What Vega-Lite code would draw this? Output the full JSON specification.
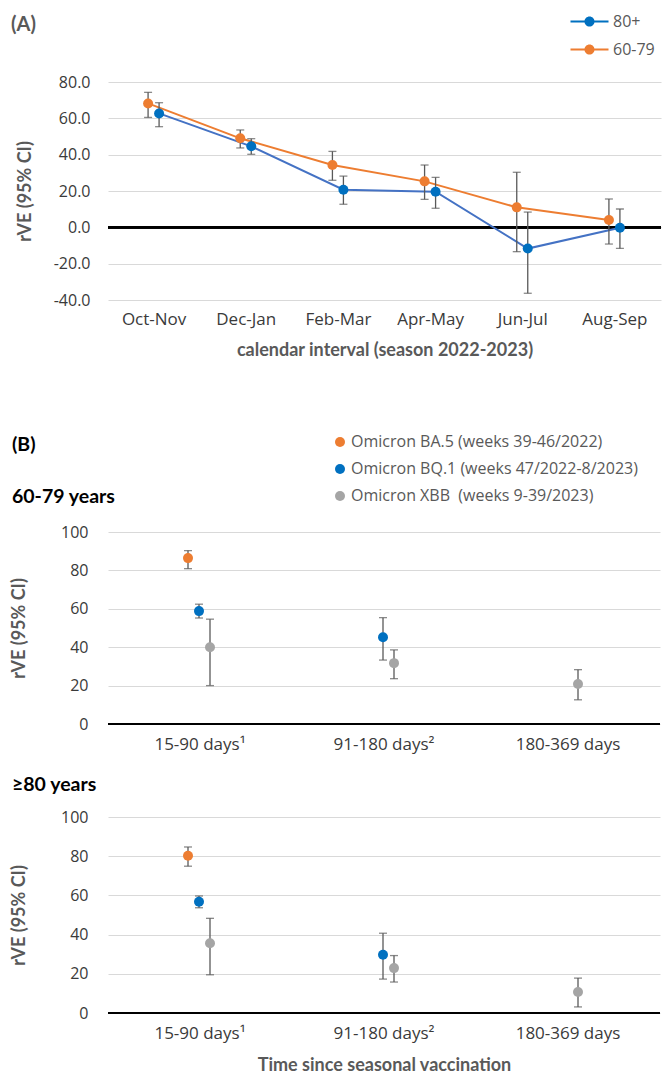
{
  "$schema": "https://vega.github.io/schema/vega-lite/v6.json",
  "padding": {"left": 10, "top": 12, "right": 4, "bottom": 4},
  "config": {
    "view": {"stroke": null},
    "font": "Open Sans",
    "axis": {"domain": false, "ticks": false, "grid": false, "labelFont": "Open Sans", "labelFontSize": 16, "labelColor": "#3a3a3a", "titleFont": "Lato", "titleFontWeight": "bold", "titleColor": "#595959", "titleFontSize": 18},
    "axisX": {"labelFontSize": 17},
    "axisY": {"grid": true, "gridColor": "#d9d9d9", "gridWidth": 1},
    "title": {"anchor": "start", "frame": "group", "font": "Lato", "fontWeight": "bold"},
    "legend": {"padding": 0, "title": null}
  },
  "datasets": {
    "a": [
      {"interval": "Oct-Nov", "group": "60-79", "rve": 68.2, "lo": 60.5, "hi": 74.3},
      {"interval": "Oct-Nov", "group": "80+", "rve": 62.7, "lo": 55.4, "hi": 68.6},
      {"interval": "Dec-Jan", "group": "60-79", "rve": 49.0, "lo": 43.7, "hi": 53.6},
      {"interval": "Dec-Jan", "group": "80+", "rve": 44.6, "lo": 40.2, "hi": 48.8},
      {"interval": "Feb-Mar", "group": "60-79", "rve": 34.3, "lo": 25.9, "hi": 41.8},
      {"interval": "Feb-Mar", "group": "80+", "rve": 20.7, "lo": 12.7, "hi": 28.2},
      {"interval": "Apr-May", "group": "60-79", "rve": 25.3, "lo": 15.4, "hi": 34.3},
      {"interval": "Apr-May", "group": "80+", "rve": 19.6, "lo": 10.5, "hi": 27.5},
      {"interval": "Jun-Jul", "group": "60-79", "rve": 11.0, "lo": -13.4, "hi": 30.3},
      {"interval": "Jun-Jul", "group": "80+", "rve": -11.7, "lo": -36.3, "hi": 8.4},
      {"interval": "Aug-Sep", "group": "60-79", "rve": 4.0, "lo": -9.2, "hi": 15.6},
      {"interval": "Aug-Sep", "group": "80+", "rve": -0.2, "lo": -11.6, "hi": 10.1}
    ],
    "b1": [
      {"time": "15-90 days¹", "variant": "Omicron BA.5 (weeks 39-46/2022)", "rve": 86.4, "lo": 80.9, "hi": 90.3},
      {"time": "15-90 days¹", "variant": "Omicron BQ.1 (weeks 47/2022-8/2023)", "rve": 58.8, "lo": 55.2, "hi": 62.4},
      {"time": "15-90 days¹", "variant": "Omicron XBB  (weeks 9-39/2023)", "rve": 40.0, "lo": 20.0, "hi": 54.6},
      {"time": "91-180 days²", "variant": "Omicron BQ.1 (weeks 47/2022-8/2023)", "rve": 45.2, "lo": 33.3, "hi": 55.4},
      {"time": "91-180 days²", "variant": "Omicron XBB  (weeks 9-39/2023)", "rve": 31.7, "lo": 23.6, "hi": 38.6},
      {"time": "180-369 days", "variant": "Omicron XBB  (weeks 9-39/2023)", "rve": 20.8, "lo": 12.6, "hi": 28.3}
    ],
    "b2": [
      {"time": "15-90 days¹", "variant": "Omicron BA.5 (weeks 39-46/2022)", "rve": 80.2, "lo": 74.9, "hi": 84.7},
      {"time": "15-90 days¹", "variant": "Omicron BQ.1 (weeks 47/2022-8/2023)", "rve": 56.8, "lo": 53.7, "hi": 59.7},
      {"time": "15-90 days¹", "variant": "Omicron XBB  (weeks 9-39/2023)", "rve": 35.6, "lo": 19.5, "hi": 48.3},
      {"time": "91-180 days²", "variant": "Omicron BQ.1 (weeks 47/2022-8/2023)", "rve": 29.7, "lo": 17.3, "hi": 40.7},
      {"time": "91-180 days²", "variant": "Omicron XBB  (weeks 9-39/2023)", "rve": 22.9, "lo": 15.8, "hi": 29.3},
      {"time": "180-369 days", "variant": "Omicron XBB  (weeks 9-39/2023)", "rve": 10.7, "lo": 3.1, "hi": 17.8}
    ]
  },
  "bounds": "flush",
  "spacing": 232,
  "resolve": {"scale": {"color": "independent"}, "legend": {"color": "independent"}},
  "vconcat": [
    {
      "width": 553,
      "height": 218,
      "title": {"text": "(A)", "dx": -97, "dy": 63, "fontSize": 20, "color": "#595959", "offset": 40},
      "data": {"name": "a"},
      "layer": [
        {"mark": {"type": "rule", "color": "#000000", "strokeWidth": 2}, "encoding": {"y": {"datum": 0, "type": "quantitative", "scale": {"domain": [-40, 80], "nice": false}, "axis": {"values": [-40, -20, 0, 20, 40, 60, 80], "labelExpr": "datum.value < 0 ? '-' + format(-datum.value, '.1f') : format(datum.value, '.1f')", "labelPadding": 18, "title": "rVE (95% CI)", "titlePadding": 19}}}},
        {
          "transform": [{"filter": "datum.group == '60-79'"}],
          "mark": {"type": "line", "strokeWidth": 2, "color": "#ED7D31", "xOffset": -6},
          "encoding": {
            "x": {"field": "interval", "type": "nominal", "sort": ["Oct-Nov", "Dec-Jan", "Feb-Mar", "Apr-May", "Jun-Jul", "Aug-Sep"], "scale": {"type": "band", "paddingInner": 0, "paddingOuter": 0}, "axis": {"labelAngle": 0, "labelPadding": 11, "title": "calendar interval (season 2022-2023)", "titlePadding": 14}},
            "y": {"field": "rve", "type": "quantitative", "scale": {"domain": [-40, 80], "nice": false}, "axis": {"values": [-40, -20, 0, 20, 40, 60, 80], "labelExpr": "datum.value < 0 ? '-' + format(-datum.value, '.1f') : format(datum.value, '.1f')", "labelPadding": 18, "title": "rVE (95% CI)", "titlePadding": 19}}
          }
        },
        {
          "transform": [{"filter": "datum.group == '80+'"}],
          "mark": {"type": "line", "strokeWidth": 2, "color": "#4472C4", "xOffset": 5},
          "encoding": {
            "x": {"field": "interval", "type": "nominal", "sort": ["Oct-Nov", "Dec-Jan", "Feb-Mar", "Apr-May", "Jun-Jul", "Aug-Sep"]},
            "y": {"field": "rve", "type": "quantitative", "axis": {"values": [-40, -20, 0, 20, 40, 60, 80], "labelExpr": "datum.value < 0 ? '-' + format(-datum.value, '.1f') : format(datum.value, '.1f')", "labelPadding": 18, "title": "rVE (95% CI)", "titlePadding": 19}}
          }
        },
        {
          "transform": [{"filter": "datum.group == '60-79'"}],
          "mark": {"type": "rule", "color": "#595959", "strokeWidth": 1.3, "xOffset": -6},
          "encoding": {
            "x": {"field": "interval", "type": "nominal", "sort": ["Oct-Nov", "Dec-Jan", "Feb-Mar", "Apr-May", "Jun-Jul", "Aug-Sep"]},
            "y": {"field": "lo", "type": "quantitative", "axis": {"values": [-40, -20, 0, 20, 40, 60, 80], "labelExpr": "datum.value < 0 ? '-' + format(-datum.value, '.1f') : format(datum.value, '.1f')", "labelPadding": 18, "title": "rVE (95% CI)", "titlePadding": 19}},
            "y2": {"field": "hi"}
          }
        },
        {
          "transform": [{"filter": "datum.group == '60-79'"}],
          "mark": {"type": "tick", "orient": "horizontal", "color": "#595959", "size": 8, "thickness": 1.3, "xOffset": -6},
          "encoding": {
            "x": {"field": "interval", "type": "nominal", "sort": ["Oct-Nov", "Dec-Jan", "Feb-Mar", "Apr-May", "Jun-Jul", "Aug-Sep"]},
            "y": {"field": "lo", "type": "quantitative", "axis": {"values": [-40, -20, 0, 20, 40, 60, 80], "labelExpr": "datum.value < 0 ? '-' + format(-datum.value, '.1f') : format(datum.value, '.1f')", "labelPadding": 18, "title": "rVE (95% CI)", "titlePadding": 19}}
          }
        },
        {
          "transform": [{"filter": "datum.group == '60-79'"}],
          "mark": {"type": "tick", "orient": "horizontal", "color": "#595959", "size": 8, "thickness": 1.3, "xOffset": -6},
          "encoding": {
            "x": {"field": "interval", "type": "nominal", "sort": ["Oct-Nov", "Dec-Jan", "Feb-Mar", "Apr-May", "Jun-Jul", "Aug-Sep"]},
            "y": {"field": "hi", "type": "quantitative", "axis": {"values": [-40, -20, 0, 20, 40, 60, 80], "labelExpr": "datum.value < 0 ? '-' + format(-datum.value, '.1f') : format(datum.value, '.1f')", "labelPadding": 18, "title": "rVE (95% CI)", "titlePadding": 19}}
          }
        },
        {
          "transform": [{"filter": "datum.group == '80+'"}],
          "mark": {"type": "rule", "color": "#595959", "strokeWidth": 1.3, "xOffset": 5},
          "encoding": {
            "x": {"field": "interval", "type": "nominal", "sort": ["Oct-Nov", "Dec-Jan", "Feb-Mar", "Apr-May", "Jun-Jul", "Aug-Sep"]},
            "y": {"field": "lo", "type": "quantitative", "axis": {"values": [-40, -20, 0, 20, 40, 60, 80], "labelExpr": "datum.value < 0 ? '-' + format(-datum.value, '.1f') : format(datum.value, '.1f')", "labelPadding": 18, "title": "rVE (95% CI)", "titlePadding": 19}},
            "y2": {"field": "hi"}
          }
        },
        {
          "transform": [{"filter": "datum.group == '80+'"}],
          "mark": {"type": "tick", "orient": "horizontal", "color": "#595959", "size": 8, "thickness": 1.3, "xOffset": 5},
          "encoding": {
            "x": {"field": "interval", "type": "nominal", "sort": ["Oct-Nov", "Dec-Jan", "Feb-Mar", "Apr-May", "Jun-Jul", "Aug-Sep"]},
            "y": {"field": "lo", "type": "quantitative", "axis": {"values": [-40, -20, 0, 20, 40, 60, 80], "labelExpr": "datum.value < 0 ? '-' + format(-datum.value, '.1f') : format(datum.value, '.1f')", "labelPadding": 18, "title": "rVE (95% CI)", "titlePadding": 19}}
          }
        },
        {
          "transform": [{"filter": "datum.group == '80+'"}],
          "mark": {"type": "tick", "orient": "horizontal", "color": "#595959", "size": 8, "thickness": 1.3, "xOffset": 5},
          "encoding": {
            "x": {"field": "interval", "type": "nominal", "sort": ["Oct-Nov", "Dec-Jan", "Feb-Mar", "Apr-May", "Jun-Jul", "Aug-Sep"]},
            "y": {"field": "hi", "type": "quantitative", "axis": {"values": [-40, -20, 0, 20, 40, 60, 80], "labelExpr": "datum.value < 0 ? '-' + format(-datum.value, '.1f') : format(datum.value, '.1f')", "labelPadding": 18, "title": "rVE (95% CI)", "titlePadding": 19}}
          }
        },
        {
          "transform": [{"filter": "datum.group == '60-79'"}],
          "mark": {"type": "point", "filled": true, "opacity": 1, "size": 100, "xOffset": -6},
          "encoding": {
            "x": {"field": "interval", "type": "nominal", "sort": ["Oct-Nov", "Dec-Jan", "Feb-Mar", "Apr-May", "Jun-Jul", "Aug-Sep"]},
            "y": {"field": "rve", "type": "quantitative", "axis": {"values": [-40, -20, 0, 20, 40, 60, 80], "labelExpr": "datum.value < 0 ? '-' + format(-datum.value, '.1f') : format(datum.value, '.1f')", "labelPadding": 18, "title": "rVE (95% CI)", "titlePadding": 19}},
            "color": {"field": "group", "type": "nominal", "scale": {"domain": ["80+", "60-79"], "range": ["#0070C0", "#ED7D31"]}, "legend": {"orient": "none", "legendX": 472, "legendY": -70, "symbolType": "M-2,-0.1H2V0.1H-2Z M0.53,0A0.53,0.53 0 1,1 -0.53,0A0.53,0.53 0 1,1 0.53,0Z", "symbolSize": 361, "symbolStrokeWidth": 0, "symbolOpacity": 1, "labelOffset": 14, "rowPadding": 10, "labelFontSize": 16, "labelFont": "Open Sans", "labelColor": "#595959"}}
          }
        },
        {
          "transform": [{"filter": "datum.group == '80+'"}],
          "mark": {"type": "point", "filled": true, "opacity": 1, "size": 100, "xOffset": 5},
          "encoding": {
            "x": {"field": "interval", "type": "nominal", "sort": ["Oct-Nov", "Dec-Jan", "Feb-Mar", "Apr-May", "Jun-Jul", "Aug-Sep"]},
            "y": {"field": "rve", "type": "quantitative", "axis": {"values": [-40, -20, 0, 20, 40, 60, 80], "labelExpr": "datum.value < 0 ? '-' + format(-datum.value, '.1f') : format(datum.value, '.1f')", "labelPadding": 18, "title": "rVE (95% CI)", "titlePadding": 19}},
            "color": {"field": "group", "type": "nominal", "scale": {"domain": ["80+", "60-79"], "range": ["#0070C0", "#ED7D31"]}, "legend": {"orient": "none", "legendX": 472, "legendY": -70, "symbolType": "M-2,-0.1H2V0.1H-2Z M0.53,0A0.53,0.53 0 1,1 -0.53,0A0.53,0.53 0 1,1 0.53,0Z", "symbolSize": 361, "symbolStrokeWidth": 0, "symbolOpacity": 1, "labelOffset": 14, "rowPadding": 10, "labelFontSize": 16, "labelFont": "Open Sans", "labelColor": "#595959"}}
          }
        }
      ]
    },
    {
      "bounds": "flush",
      "spacing": 93,
      "resolve": {"scale": {"color": "independent"}, "legend": {"color": "independent"}},
      "vconcat": [
        {
          "width": 552,
          "height": 192,
          "title": {"text": ["(B)", "60-79 years"], "lineHeight": 52, "dx": -96, "dy": 93, "fontSize": 19.5, "color": "#000000", "offset": 20},
          "data": {"name": "b1"},
          "layer": [
            {"mark": {"type": "rule", "color": "#000000", "strokeWidth": 2}, "encoding": {"y": {"datum": 0, "type": "quantitative", "scale": {"domain": [0, 100], "nice": false}, "axis": {"values": [0, 20, 40, 60, 80, 100], "labelPadding": 20, "title": "rVE (95% CI)", "titlePadding": 32}}}},
            {
              "transform": [{"filter": "datum.variant == 'Omicron BA.5 (weeks 39-46/2022)'"}],
              "mark": {"type": "rule", "color": "#595959", "strokeWidth": 1.3, "xOffset": -12},
              "encoding": {
                "x": {"field": "time", "type": "nominal", "sort": ["15-90 days¹", "91-180 days²", "180-369 days"], "scale": {"type": "band", "paddingInner": 0, "paddingOuter": 0, "domain": ["15-90 days¹", "91-180 days²", "180-369 days"]}, "axis": {"labelAngle": 0, "labelPadding": 12, "title": null}},
                "y": {"field": "lo", "type": "quantitative", "scale": {"domain": [0, 100], "nice": false}, "axis": {"values": [0, 20, 40, 60, 80, 100], "labelPadding": 20, "title": "rVE (95% CI)", "titlePadding": 32}},
                "y2": {"field": "hi"}
              }
            },
            {
              "transform": [{"filter": "datum.variant == 'Omicron BA.5 (weeks 39-46/2022)'"}],
              "mark": {"type": "tick", "orient": "horizontal", "color": "#595959", "size": 8, "thickness": 1.3, "xOffset": -12},
              "encoding": {
                "x": {"field": "time", "type": "nominal", "sort": ["15-90 days¹", "91-180 days²", "180-369 days"]},
                "y": {"field": "lo", "type": "quantitative", "axis": {"values": [0, 20, 40, 60, 80, 100], "labelPadding": 20, "title": "rVE (95% CI)", "titlePadding": 32}}
              }
            },
            {
              "transform": [{"filter": "datum.variant == 'Omicron BA.5 (weeks 39-46/2022)'"}],
              "mark": {"type": "tick", "orient": "horizontal", "color": "#595959", "size": 8, "thickness": 1.3, "xOffset": -12},
              "encoding": {
                "x": {"field": "time", "type": "nominal", "sort": ["15-90 days¹", "91-180 days²", "180-369 days"]},
                "y": {"field": "hi", "type": "quantitative", "axis": {"values": [0, 20, 40, 60, 80, 100], "labelPadding": 20, "title": "rVE (95% CI)", "titlePadding": 32}}
              }
            },
            {
              "transform": [{"filter": "datum.variant == 'Omicron BA.5 (weeks 39-46/2022)'"}],
              "mark": {"type": "point", "filled": true, "opacity": 1, "size": 100, "xOffset": -12},
              "encoding": {
                "x": {"field": "time", "type": "nominal", "sort": ["15-90 days¹", "91-180 days²", "180-369 days"]},
                "y": {"field": "rve", "type": "quantitative", "axis": {"values": [0, 20, 40, 60, 80, 100], "labelPadding": 20, "title": "rVE (95% CI)", "titlePadding": 32}},
                "color": {"field": "variant", "type": "nominal", "scale": {"domain": ["Omicron BA.5 (weeks 39-46/2022)", "Omicron BQ.1 (weeks 47/2022-8/2023)", "Omicron XBB  (weeks 9-39/2023)"], "range": ["#ED7D31", "#0070C0", "#A5A5A5"]}, "legend": {"orient": "none", "legendX": 224, "legendY": -98, "symbolType": "circle", "symbolSize": 100, "symbolOpacity": 1, "labelOffset": 3, "rowPadding": 11, "labelFontSize": 16, "labelFont": "Open Sans", "labelColor": "#595959", "labelLimit": 400, "labelExpr": "replace(datum.label, '  ', '\u00a0 ')"}}
              }
            },
            {
              "transform": [{"filter": "datum.variant == 'Omicron BQ.1 (weeks 47/2022-8/2023)'"}],
              "mark": {"type": "rule", "color": "#595959", "strokeWidth": 1.3, "xOffset": -1},
              "encoding": {
                "x": {"field": "time", "type": "nominal", "sort": ["15-90 days¹", "91-180 days²", "180-369 days"]},
                "y": {"field": "lo", "type": "quantitative", "axis": {"values": [0, 20, 40, 60, 80, 100], "labelPadding": 20, "title": "rVE (95% CI)", "titlePadding": 32}},
                "y2": {"field": "hi"}
              }
            },
            {
              "transform": [{"filter": "datum.variant == 'Omicron BQ.1 (weeks 47/2022-8/2023)'"}],
              "mark": {"type": "tick", "orient": "horizontal", "color": "#595959", "size": 8, "thickness": 1.3, "xOffset": -1},
              "encoding": {
                "x": {"field": "time", "type": "nominal", "sort": ["15-90 days¹", "91-180 days²", "180-369 days"]},
                "y": {"field": "lo", "type": "quantitative", "axis": {"values": [0, 20, 40, 60, 80, 100], "labelPadding": 20, "title": "rVE (95% CI)", "titlePadding": 32}}
              }
            },
            {
              "transform": [{"filter": "datum.variant == 'Omicron BQ.1 (weeks 47/2022-8/2023)'"}],
              "mark": {"type": "tick", "orient": "horizontal", "color": "#595959", "size": 8, "thickness": 1.3, "xOffset": -1},
              "encoding": {
                "x": {"field": "time", "type": "nominal", "sort": ["15-90 days¹", "91-180 days²", "180-369 days"]},
                "y": {"field": "hi", "type": "quantitative", "axis": {"values": [0, 20, 40, 60, 80, 100], "labelPadding": 20, "title": "rVE (95% CI)", "titlePadding": 32}}
              }
            },
            {
              "transform": [{"filter": "datum.variant == 'Omicron BQ.1 (weeks 47/2022-8/2023)'"}],
              "mark": {"type": "point", "filled": true, "opacity": 1, "size": 100, "xOffset": -1},
              "encoding": {
                "x": {"field": "time", "type": "nominal", "sort": ["15-90 days¹", "91-180 days²", "180-369 days"]},
                "y": {"field": "rve", "type": "quantitative", "axis": {"values": [0, 20, 40, 60, 80, 100], "labelPadding": 20, "title": "rVE (95% CI)", "titlePadding": 32}},
                "color": {"field": "variant", "type": "nominal", "scale": {"domain": ["Omicron BA.5 (weeks 39-46/2022)", "Omicron BQ.1 (weeks 47/2022-8/2023)", "Omicron XBB  (weeks 9-39/2023)"], "range": ["#ED7D31", "#0070C0", "#A5A5A5"]}, "legend": {"orient": "none", "legendX": 224, "legendY": -98, "symbolType": "circle", "symbolSize": 100, "symbolOpacity": 1, "labelOffset": 3, "rowPadding": 11, "labelFontSize": 16, "labelFont": "Open Sans", "labelColor": "#595959", "labelLimit": 400, "labelExpr": "replace(datum.label, '  ', '\u00a0 ')"}}
              }
            },
            {
              "transform": [{"filter": "datum.variant == 'Omicron XBB  (weeks 9-39/2023)'"}],
              "mark": {"type": "rule", "color": "#595959", "strokeWidth": 1.3, "xOffset": 10},
              "encoding": {
                "x": {"field": "time", "type": "nominal", "sort": ["15-90 days¹", "91-180 days²", "180-369 days"]},
                "y": {"field": "lo", "type": "quantitative", "axis": {"values": [0, 20, 40, 60, 80, 100], "labelPadding": 20, "title": "rVE (95% CI)", "titlePadding": 32}},
                "y2": {"field": "hi"}
              }
            },
            {
              "transform": [{"filter": "datum.variant == 'Omicron XBB  (weeks 9-39/2023)'"}],
              "mark": {"type": "tick", "orient": "horizontal", "color": "#595959", "size": 8, "thickness": 1.3, "xOffset": 10},
              "encoding": {
                "x": {"field": "time", "type": "nominal", "sort": ["15-90 days¹", "91-180 days²", "180-369 days"]},
                "y": {"field": "lo", "type": "quantitative", "axis": {"values": [0, 20, 40, 60, 80, 100], "labelPadding": 20, "title": "rVE (95% CI)", "titlePadding": 32}}
              }
            },
            {
              "transform": [{"filter": "datum.variant == 'Omicron XBB  (weeks 9-39/2023)'"}],
              "mark": {"type": "tick", "orient": "horizontal", "color": "#595959", "size": 8, "thickness": 1.3, "xOffset": 10},
              "encoding": {
                "x": {"field": "time", "type": "nominal", "sort": ["15-90 days¹", "91-180 days²", "180-369 days"]},
                "y": {"field": "hi", "type": "quantitative", "axis": {"values": [0, 20, 40, 60, 80, 100], "labelPadding": 20, "title": "rVE (95% CI)", "titlePadding": 32}}
              }
            },
            {
              "transform": [{"filter": "datum.variant == 'Omicron XBB  (weeks 9-39/2023)'"}],
              "mark": {"type": "point", "filled": true, "opacity": 1, "size": 100, "xOffset": 10},
              "encoding": {
                "x": {"field": "time", "type": "nominal", "sort": ["15-90 days¹", "91-180 days²", "180-369 days"]},
                "y": {"field": "rve", "type": "quantitative", "axis": {"values": [0, 20, 40, 60, 80, 100], "labelPadding": 20, "title": "rVE (95% CI)", "titlePadding": 32}},
                "color": {"field": "variant", "type": "nominal", "scale": {"domain": ["Omicron BA.5 (weeks 39-46/2022)", "Omicron BQ.1 (weeks 47/2022-8/2023)", "Omicron XBB  (weeks 9-39/2023)"], "range": ["#ED7D31", "#0070C0", "#A5A5A5"]}, "legend": {"orient": "none", "legendX": 224, "legendY": -98, "symbolType": "circle", "symbolSize": 100, "symbolOpacity": 1, "labelOffset": 3, "rowPadding": 11, "labelFontSize": 16, "labelFont": "Open Sans", "labelColor": "#595959", "labelLimit": 400, "labelExpr": "replace(datum.label, '  ', '\u00a0 ')"}}
              }
            }
          ]
        },
        {
          "width": 552,
          "height": 196,
          "title": {"text": "≥80 years", "dx": -96, "dy": 6, "fontSize": 19.5, "color": "#000000", "offset": 20},
          "data": {"name": "b2"},
          "layer": [
            {"mark": {"type": "rule", "color": "#000000", "strokeWidth": 2}, "encoding": {"y": {"datum": 0, "type": "quantitative", "scale": {"domain": [0, 100], "nice": false}, "axis": {"values": [0, 20, 40, 60, 80, 100], "labelPadding": 20, "title": "rVE (95% CI)", "titlePadding": 32}}}},
            {
              "transform": [{"filter": "datum.variant == 'Omicron BA.5 (weeks 39-46/2022)'"}],
              "mark": {"type": "rule", "color": "#595959", "strokeWidth": 1.3, "xOffset": -12},
              "encoding": {
                "x": {"field": "time", "type": "nominal", "sort": ["15-90 days¹", "91-180 days²", "180-369 days"], "scale": {"type": "band", "paddingInner": 0, "paddingOuter": 0, "domain": ["15-90 days¹", "91-180 days²", "180-369 days"]}, "axis": {"labelAngle": 0, "labelPadding": 12, "title": "Time since seasonal vaccination", "titlePadding": 15}},
                "y": {"field": "lo", "type": "quantitative", "scale": {"domain": [0, 100], "nice": false}, "axis": {"values": [0, 20, 40, 60, 80, 100], "labelPadding": 20, "title": "rVE (95% CI)", "titlePadding": 32}},
                "y2": {"field": "hi"}
              }
            },
            {
              "transform": [{"filter": "datum.variant == 'Omicron BA.5 (weeks 39-46/2022)'"}],
              "mark": {"type": "tick", "orient": "horizontal", "color": "#595959", "size": 8, "thickness": 1.3, "xOffset": -12},
              "encoding": {
                "x": {"field": "time", "type": "nominal", "sort": ["15-90 days¹", "91-180 days²", "180-369 days"]},
                "y": {"field": "lo", "type": "quantitative", "axis": {"values": [0, 20, 40, 60, 80, 100], "labelPadding": 20, "title": "rVE (95% CI)", "titlePadding": 32}}
              }
            },
            {
              "transform": [{"filter": "datum.variant == 'Omicron BA.5 (weeks 39-46/2022)'"}],
              "mark": {"type": "tick", "orient": "horizontal", "color": "#595959", "size": 8, "thickness": 1.3, "xOffset": -12},
              "encoding": {
                "x": {"field": "time", "type": "nominal", "sort": ["15-90 days¹", "91-180 days²", "180-369 days"]},
                "y": {"field": "hi", "type": "quantitative", "axis": {"values": [0, 20, 40, 60, 80, 100], "labelPadding": 20, "title": "rVE (95% CI)", "titlePadding": 32}}
              }
            },
            {
              "transform": [{"filter": "datum.variant == 'Omicron BA.5 (weeks 39-46/2022)'"}],
              "mark": {"type": "point", "filled": true, "opacity": 1, "size": 100, "xOffset": -12},
              "encoding": {
                "x": {"field": "time", "type": "nominal", "sort": ["15-90 days¹", "91-180 days²", "180-369 days"]},
                "y": {"field": "rve", "type": "quantitative", "axis": {"values": [0, 20, 40, 60, 80, 100], "labelPadding": 20, "title": "rVE (95% CI)", "titlePadding": 32}},
                "color": {"field": "variant", "type": "nominal", "scale": {"domain": ["Omicron BA.5 (weeks 39-46/2022)", "Omicron BQ.1 (weeks 47/2022-8/2023)", "Omicron XBB  (weeks 9-39/2023)"], "range": ["#ED7D31", "#0070C0", "#A5A5A5"]}, "legend": null}
              }
            },
            {
              "transform": [{"filter": "datum.variant == 'Omicron BQ.1 (weeks 47/2022-8/2023)'"}],
              "mark": {"type": "rule", "color": "#595959", "strokeWidth": 1.3, "xOffset": -1},
              "encoding": {
                "x": {"field": "time", "type": "nominal", "sort": ["15-90 days¹", "91-180 days²", "180-369 days"]},
                "y": {"field": "lo", "type": "quantitative", "axis": {"values": [0, 20, 40, 60, 80, 100], "labelPadding": 20, "title": "rVE (95% CI)", "titlePadding": 32}},
                "y2": {"field": "hi"}
              }
            },
            {
              "transform": [{"filter": "datum.variant == 'Omicron BQ.1 (weeks 47/2022-8/2023)'"}],
              "mark": {"type": "tick", "orient": "horizontal", "color": "#595959", "size": 8, "thickness": 1.3, "xOffset": -1},
              "encoding": {
                "x": {"field": "time", "type": "nominal", "sort": ["15-90 days¹", "91-180 days²", "180-369 days"]},
                "y": {"field": "lo", "type": "quantitative", "axis": {"values": [0, 20, 40, 60, 80, 100], "labelPadding": 20, "title": "rVE (95% CI)", "titlePadding": 32}}
              }
            },
            {
              "transform": [{"filter": "datum.variant == 'Omicron BQ.1 (weeks 47/2022-8/2023)'"}],
              "mark": {"type": "tick", "orient": "horizontal", "color": "#595959", "size": 8, "thickness": 1.3, "xOffset": -1},
              "encoding": {
                "x": {"field": "time", "type": "nominal", "sort": ["15-90 days¹", "91-180 days²", "180-369 days"]},
                "y": {"field": "hi", "type": "quantitative", "axis": {"values": [0, 20, 40, 60, 80, 100], "labelPadding": 20, "title": "rVE (95% CI)", "titlePadding": 32}}
              }
            },
            {
              "transform": [{"filter": "datum.variant == 'Omicron BQ.1 (weeks 47/2022-8/2023)'"}],
              "mark": {"type": "point", "filled": true, "opacity": 1, "size": 100, "xOffset": -1},
              "encoding": {
                "x": {"field": "time", "type": "nominal", "sort": ["15-90 days¹", "91-180 days²", "180-369 days"]},
                "y": {"field": "rve", "type": "quantitative", "axis": {"values": [0, 20, 40, 60, 80, 100], "labelPadding": 20, "title": "rVE (95% CI)", "titlePadding": 32}},
                "color": {"field": "variant", "type": "nominal", "scale": {"domain": ["Omicron BA.5 (weeks 39-46/2022)", "Omicron BQ.1 (weeks 47/2022-8/2023)", "Omicron XBB  (weeks 9-39/2023)"], "range": ["#ED7D31", "#0070C0", "#A5A5A5"]}, "legend": null}
              }
            },
            {
              "transform": [{"filter": "datum.variant == 'Omicron XBB  (weeks 9-39/2023)'"}],
              "mark": {"type": "rule", "color": "#595959", "strokeWidth": 1.3, "xOffset": 10},
              "encoding": {
                "x": {"field": "time", "type": "nominal", "sort": ["15-90 days¹", "91-180 days²", "180-369 days"]},
                "y": {"field": "lo", "type": "quantitative", "axis": {"values": [0, 20, 40, 60, 80, 100], "labelPadding": 20, "title": "rVE (95% CI)", "titlePadding": 32}},
                "y2": {"field": "hi"}
              }
            },
            {
              "transform": [{"filter": "datum.variant == 'Omicron XBB  (weeks 9-39/2023)'"}],
              "mark": {"type": "tick", "orient": "horizontal", "color": "#595959", "size": 8, "thickness": 1.3, "xOffset": 10},
              "encoding": {
                "x": {"field": "time", "type": "nominal", "sort": ["15-90 days¹", "91-180 days²", "180-369 days"]},
                "y": {"field": "lo", "type": "quantitative", "axis": {"values": [0, 20, 40, 60, 80, 100], "labelPadding": 20, "title": "rVE (95% CI)", "titlePadding": 32}}
              }
            },
            {
              "transform": [{"filter": "datum.variant == 'Omicron XBB  (weeks 9-39/2023)'"}],
              "mark": {"type": "tick", "orient": "horizontal", "color": "#595959", "size": 8, "thickness": 1.3, "xOffset": 10},
              "encoding": {
                "x": {"field": "time", "type": "nominal", "sort": ["15-90 days¹", "91-180 days²", "180-369 days"]},
                "y": {"field": "hi", "type": "quantitative", "axis": {"values": [0, 20, 40, 60, 80, 100], "labelPadding": 20, "title": "rVE (95% CI)", "titlePadding": 32}}
              }
            },
            {
              "transform": [{"filter": "datum.variant == 'Omicron XBB  (weeks 9-39/2023)'"}],
              "mark": {"type": "point", "filled": true, "opacity": 1, "size": 100, "xOffset": 10},
              "encoding": {
                "x": {"field": "time", "type": "nominal", "sort": ["15-90 days¹", "91-180 days²", "180-369 days"]},
                "y": {"field": "rve", "type": "quantitative", "axis": {"values": [0, 20, 40, 60, 80, 100], "labelPadding": 20, "title": "rVE (95% CI)", "titlePadding": 32}},
                "color": {"field": "variant", "type": "nominal", "scale": {"domain": ["Omicron BA.5 (weeks 39-46/2022)", "Omicron BQ.1 (weeks 47/2022-8/2023)", "Omicron XBB  (weeks 9-39/2023)"], "range": ["#ED7D31", "#0070C0", "#A5A5A5"]}, "legend": null}
              }
            }
          ]
        }
      ]
    }
  ]
}
